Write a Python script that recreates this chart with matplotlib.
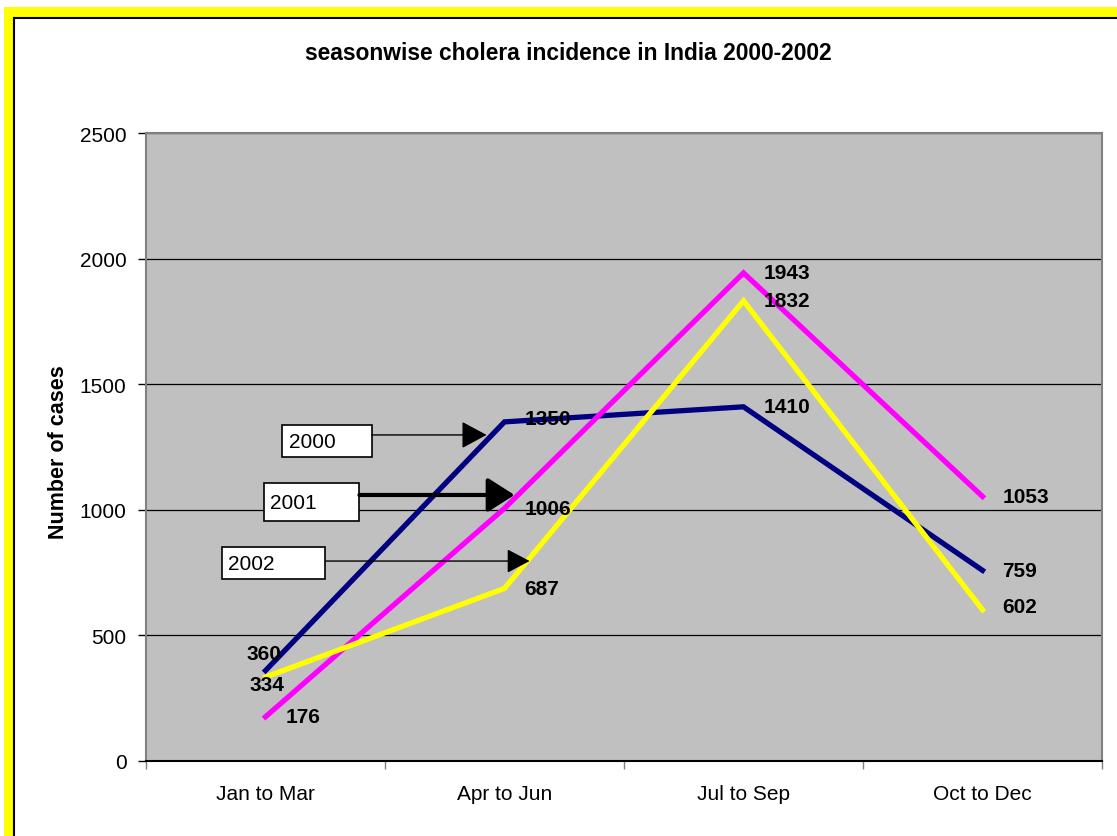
import matplotlib.pyplot as plt
from matplotlib.patches import Rectangle

plt.rcParams['font.family'] = ['Liberation Sans', 'DejaVu Sans']

seasons = ["Jan to Mar", "Apr to Jun", "Jul to Sep", "Oct to Dec"]
years = ["2000", "2001", "2002"]
cases_2000 = [360, 1350, 1410, 759]
cases_2001 = [176, 1006, 1943, 1053]
cases_2002 = [334, 687, 1832, 602]
colors = ["#000080", "#ff00ff", "#ffff00"]

# label offsets in pixels (dx, dy) for value labels; default sits to the right
default_off = (20, 0)
special_off = {(0, 0): (-19, 17), (2, 0): (-16, -7), (2, 3): (20, 3), (0, 1): (20, 3)}

# year callout boxes: (x0, y0, x1, y1) in data units, arrow tip
boxes = [(0.071, 1210, 0.444, 1337), (-0.008, 955, 0.393, 1107), (-0.184, 723, 0.251, 850)]
arrow_y = [1298, 1059, 796]
arrow_tip = [0.925, 1.042, 1.105]
arrow_lw = [1.0, 3.0, 1.0]
head_size = [(0.85, 1.05), (1.05, 1.1), (0.75, 0.95)]

fig = plt.figure(figsize=(11.17, 8.37), dpi=100)
px = 1.0 / 1117
py = 1.0 / 837

# yellow frame around the chart
fig.patches.append(Rectangle((4 * px, 1 - 18 * py), 1, 10 * py, transform=fig.transFigure,
                             facecolor="#ffff00", edgecolor="none", zorder=0))
fig.patches.append(Rectangle((4 * px, -0.1), 10 * px, 1.1 - 8 * py, transform=fig.transFigure,
                             facecolor="#ffff00", edgecolor="none", zorder=0))
fig.lines.append(plt.Line2D([13.5 * px, 1], [1 - 18.5 * py] * 2, transform=fig.transFigure,
                            color="black", lw=1.5))
fig.lines.append(plt.Line2D([13.5 * px] * 2, [0, 1 - 18.5 * py], transform=fig.transFigure,
                            color="black", lw=1.5))

ax = fig.add_axes([146 * px, 75 * py, 956 * px, 628 * py])
ax.set_facecolor("#c0c0c0")

x = list(range(len(seasons)))
series = [cases_2000, cases_2001, cases_2002]
for i, vals in enumerate(series):
    ax.plot(x, vals, color=colors[i], lw=3.8, solid_joinstyle="miter", zorder=3)
    for j, v in enumerate(vals):
        dx, dy = special_off.get((i, j), default_off)
        ax.annotate(str(v), (j, v), xytext=(dx * 0.72, dy * 0.72), textcoords="offset points",
                    ha="left", va="center", fontsize=15, fontweight="bold", zorder=5)

for i, (x0, y0, x1, y1) in enumerate(boxes):
    ax.add_patch(Rectangle((x0, y0), x1 - x0, y1 - y0, facecolor="white",
                           edgecolor="black", lw=1.2, zorder=4))
    ax.text(x0 + 0.027, (y0 + y1) / 2, years[i], fontsize=15, va="center", ha="left", zorder=5)
    hw, hl = head_size[i]
    ax.annotate("", xy=(arrow_tip[i], arrow_y[i]), xytext=(x1, arrow_y[i]),
                arrowprops=dict(arrowstyle="-|>,head_width=%.2f,head_length=%.2f" % (hw, hl * 1.5),
                                color="black", lw=arrow_lw[i], shrinkA=0, shrinkB=0), zorder=4)

ax.set_xlim(-0.5, 3.5)
ax.set_ylim(0, 2500)
ax.set_yticks([0, 500, 1000, 1500, 2000, 2500])
ax.yaxis.grid(True, color="black", lw=0.9)
ax.set_axisbelow(True)
ax.tick_params(axis="y", direction="out", length=6, width=1, labelsize=15, pad=8)

ax.set_xticks([-0.5, 0.5, 1.5, 2.5, 3.5])
ax.set_xticklabels([])
ax.set_xticks(x, minor=True)
ax.set_xticklabels(seasons, minor=True)
ax.tick_params(axis="x", which="major", direction="out", length=6, width=1, color="#808080")
ax.tick_params(axis="x", which="minor", length=0, labelsize=15, pad=16.5)

for s in ["left", "top", "right"]:
    ax.spines[s].set_color("#808080")
    ax.spines[s].set_linewidth(1.5)
ax.spines["bottom"].set_color("black")
ax.spines["bottom"].set_linewidth(1.5)

ax.set_ylabel("Number of cases", fontsize=15.5, fontweight="bold")
ax.yaxis.set_label_coords(-0.081, 0.494)
fig.text(568 * px, 1 - 54 * py, "seasonwise cholera incidence in India 2000-2002",
         ha="center", va="center", fontsize=16.4, fontweight="bold")

fig.savefig("out.png", dpi=100)
